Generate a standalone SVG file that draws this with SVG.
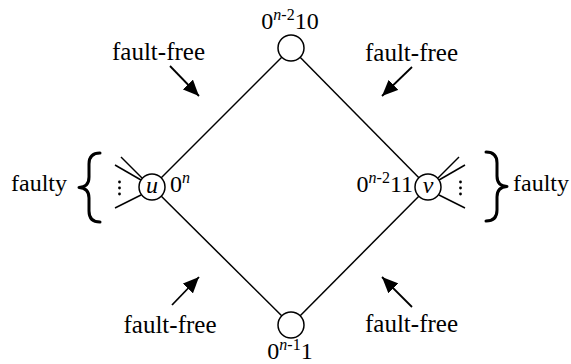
<svg xmlns="http://www.w3.org/2000/svg" width="571" height="364" viewBox="0 0 571 364">
<style>
  text { font-family: "Liberation Serif", "Times New Roman", serif; font-size: 24px; fill: #000; }
  .ff { font-size: 25px; }
  .i { font-style: italic; }
  .node { fill: #fff; stroke: #000; stroke-width: 1.5; }
  .edge { stroke: #000; stroke-width: 1.5; fill: none; }
  .arr { stroke: #000; stroke-width: 1.8; fill: none; }
  .brace { stroke: #000; stroke-width: 3; fill: none; stroke-linecap: round; stroke-linejoin: round; }
  .dot { fill: #000; }
</style>
<defs>
  <marker id="a" viewBox="0 0 16 14" refX="16" refY="7" markerWidth="16" markerHeight="14" orient="auto" markerUnits="userSpaceOnUse">
    <path d="M0,0 L16,7 L0,14 z" fill="#000"/>
  </marker>
</defs>
<g id="connectors">
  <line class="edge" x1="152" y1="187" x2="291" y2="48"/>
  <line class="edge" x1="428" y1="187" x2="291" y2="48"/>
  <line class="edge" x1="152" y1="187" x2="291" y2="325"/>
  <line class="edge" x1="428" y1="187" x2="291" y2="325"/>
  <line class="edge" x1="115" y1="165" x2="141" y2="180"/>
  <line class="edge" x1="121" y1="157" x2="142" y2="178"/>
  <line class="edge" x1="115" y1="208" x2="141" y2="195"/>
  <line class="edge" x1="465" y1="165" x2="439" y2="180"/>
  <line class="edge" x1="459" y1="157" x2="438" y2="178"/>
  <line class="edge" x1="465" y1="208" x2="439" y2="195"/>
  <line class="arr" x1="170" y1="66" x2="199" y2="96" marker-end="url(#a)"/>
  <line class="arr" x1="412" y1="67" x2="382" y2="96" marker-end="url(#a)"/>
  <line class="arr" x1="172" y1="305" x2="199" y2="277" marker-end="url(#a)"/>
  <line class="arr" x1="412" y1="307" x2="382" y2="277" marker-end="url(#a)"/>
</g>
<g id="node-top">
  <circle class="node" cx="291" cy="48" r="13"/>
  <text x="290" y="29" text-anchor="middle">0<tspan font-size="16" dy="-9"><tspan class="i">n</tspan>-2</tspan><tspan dy="9">10</tspan></text>
</g>
<g id="node-bottom">
  <circle class="node" cx="291" cy="325" r="13"/>
  <text x="290" y="359" text-anchor="middle">0<tspan font-size="16" dy="-9"><tspan class="i">n</tspan>-1</tspan><tspan dy="9">1</tspan></text>
</g>
<g id="node-u">
  <circle class="node" cx="152" cy="187" r="13"/>
  <text class="i" x="152" y="193" text-anchor="middle">u</text>
  <text x="170" y="192">0<tspan font-size="16" dy="-9" class="i">n</tspan></text>
  <circle class="dot" cx="119.5" cy="182" r="1.4"/>
  <circle class="dot" cx="119.5" cy="188" r="1.4"/>
  <circle class="dot" cx="119.5" cy="194" r="1.4"/>
  <path class="brace" d="M100,153 Q89,153 89,164 L89,177 Q89,187 79,187.5 Q89,188 89,198 L89,211 Q89,222 100,222"/>
  <text x="67" y="191" text-anchor="end">faulty</text>
</g>
<g id="node-v">
  <circle class="node" cx="428" cy="187" r="13"/>
  <text class="i" x="428" y="193" text-anchor="middle">v</text>
  <text x="413" y="192" text-anchor="end">0<tspan font-size="16" dy="-9"><tspan class="i">n</tspan>-2</tspan><tspan dy="9">11</tspan></text>
  <circle class="dot" cx="460.5" cy="182" r="1.4"/>
  <circle class="dot" cx="460.5" cy="188" r="1.4"/>
  <circle class="dot" cx="460.5" cy="194" r="1.4"/>
  <path class="brace" d="M486,152 Q497,152 497,163 L497,176 Q497,186 507,186.5 Q497,187 497,197 L497,210 Q497,221 486,221"/>
  <text x="513" y="191">faulty</text>
</g>
<g id="labels">
  <text class="ff" x="158.5" y="60" text-anchor="middle">fault-free</text>
  <text class="ff" x="411.5" y="61" text-anchor="middle">fault-free</text>
  <text class="ff" x="170" y="333" text-anchor="middle">fault-free</text>
  <text class="ff" x="411.5" y="332" text-anchor="middle">fault-free</text>
</g>
</svg>
